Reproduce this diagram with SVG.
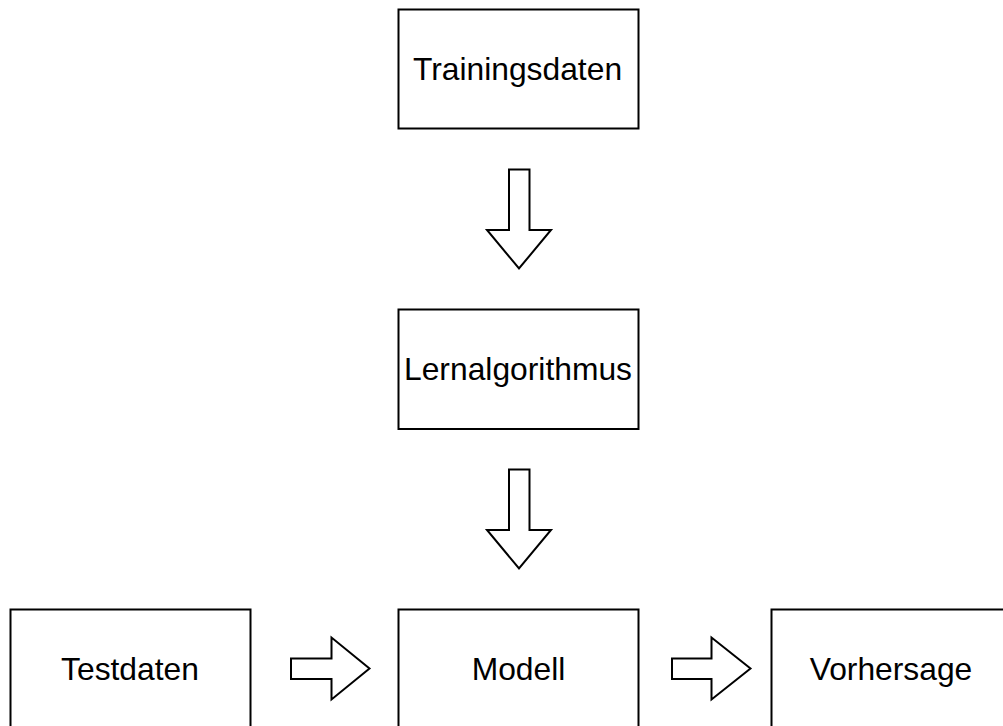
<svg xmlns="http://www.w3.org/2000/svg" width="1003" height="726" viewBox="0 0 1003 726">
<style>
.box{fill:#fff;stroke:#000;stroke-width:2}
.lbl{font-family:"Liberation Sans",Arial,sans-serif;font-size:31.8px;fill:#000;text-anchor:middle;dominant-baseline:central}
.arr{fill:#fff;stroke:#000;stroke-width:2;stroke-linejoin:miter}
</style>
<rect width="1003" height="726" fill="#fff"/>
<g id="connectors">
<path class="arr" d="M509,169.5 H529.5 V230 H551 L519,268.5 L487,230 H509 Z"/>
<path class="arr" d="M509,469.5 H529.5 V530 H551 L519,568.5 L487,530 H509 Z"/>
<path class="arr" d="M291,658.5 H331.5 V637.5 L369.5,668.5 L331.5,699.5 V679 H291 Z"/>
<path class="arr" d="M672,658.5 H711.5 V637.5 L750.5,668.5 L711.5,699.5 V679 H672 Z"/>
</g>
<g id="trainingsdaten"><rect class="box" x="398.5" y="9.5" width="240" height="119"/><text class="lbl" x="517.5" y="69">Trainingsdaten</text></g>
<g id="lernalgorithmus"><rect class="box" x="398.5" y="309.5" width="240" height="119.5"/><text class="lbl" x="518" y="369">Lernalgorithmus</text></g>
<g id="testdaten"><rect class="box" x="10.5" y="609.5" width="240" height="130"/><text class="lbl" x="130" y="669">Testdaten</text></g>
<g id="modell"><rect class="box" x="398.5" y="609.5" width="240" height="130"/><text class="lbl" x="518.5" y="669">Modell</text></g>
<g id="vorhersage"><rect class="box" x="771.5" y="609.5" width="240" height="130"/><text class="lbl" x="891" y="669">Vorhersage</text></g>
</svg>
